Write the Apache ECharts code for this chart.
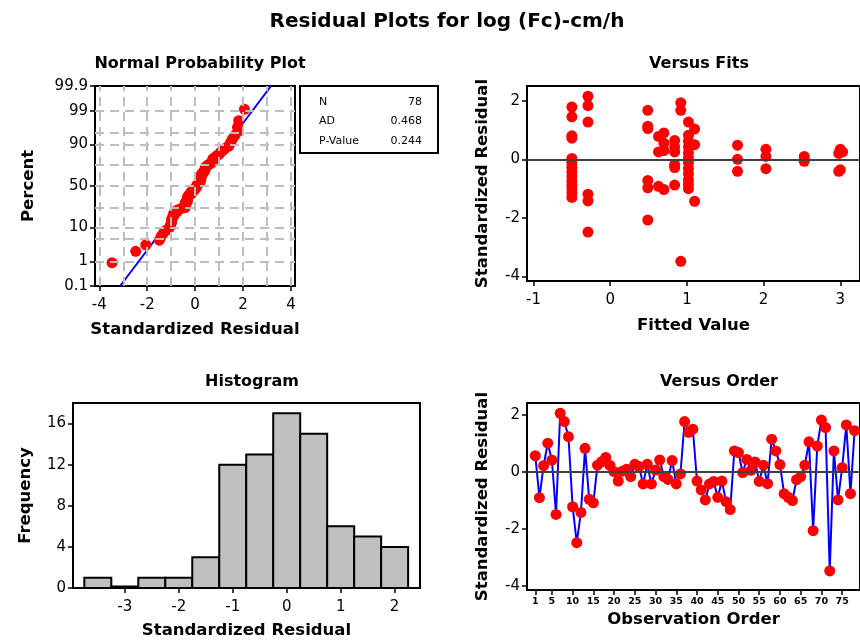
<!DOCTYPE html>
<html><head><meta charset="utf-8">
<script src="https://cdn.jsdelivr.net/npm/echarts@6/dist/echarts.min.js"></script>
<style>html,body{margin:0;padding:0;background:#fff}#c{width:860px;height:640px}</style>
</head><body><div id="c"></div>
<script>
// ---- data ----
const residuals = [0.57,-0.90,0.22,1.01,0.42,-1.49,2.06,1.77,1.24,-1.22,
  -2.48,-1.42,0.83,-0.96,-1.08,0.24,0.36,0.51,0.23,0.01,
  -0.32,0.03,0.10,-0.16,0.27,0.19,-0.42,0.27,-0.42,0.07,
  0.42,-0.16,-0.26,0.40,-0.42,-0.07,1.77,1.39,1.50,-0.32,
  -0.63,-0.98,-0.42,-0.33,-0.89,-0.32,-1.04,-1.32,0.74,0.68,
  -0.02,0.44,0.06,0.35,-0.33,0.24,-0.41,1.15,0.74,0.26,
  -0.76,-0.89,-1.00,-0.27,-0.16,0.24,1.06,-2.06,0.91,1.82,
  1.56,-3.47,0.74,-0.98,0.15,1.65,-0.76,1.45];
const nppPercentLabels = [0.1,1,10,50,90,99,99.9];
const nppGridPercents = [1,5,10,25,50,75,90,95,99];
const nppGridX = [-4,-3,-2,-1,0,1,2,3,4];
const nppLineX = [-3.13,3.17];
const nppLineP = [0.1,99.9];
const statNames = ['N','AD','P-Value'];
const statValues = ['78','0.468','0.244'];
const fitsX = [-0.50,-0.50,-0.50,-0.50,-0.50,-0.50,-0.50,-0.50,-0.50,-0.50,-0.50,-0.50,-0.50,-0.50,
  -0.29,-0.29,-0.29,-0.29,-0.29,-0.29,
  0.49,0.49,0.49,0.49,0.49,0.49,
  0.63,0.63,0.63, 0.70,0.70,0.70,0.70,
  0.84,0.84,0.84,0.84,0.84,0.84,
  0.92,0.92,0.92,
  1.02,1.02,1.02,1.02,1.02,1.02,1.02,1.02,1.02,1.02,1.02,1.02,
  1.10,1.10,1.10,
  1.66,1.66,1.66, 2.03,2.03,2.03, 2.53,2.53,2.53, 3.00,2.98,3.00,2.98,3.03];
const fitsY = [1.78,1.45,0.80,0.72,0.03,-0.12,-0.27,-0.42,-0.57,-0.72,-0.87,-1.00,-1.15,-1.30,
  2.15,1.83,1.27,-1.19,-1.42,-2.48,
  1.67,1.13,1.05,-0.72,-0.97,-2.07,
  0.78,0.25,-0.92, 0.90,0.55,0.30,-1.03,
  0.64,0.42,0.25,-0.18,-0.28,-0.88,
  1.93,1.67,-3.48,
  1.27,0.82,0.62,0.42,0.22,0.05,-0.12,-0.32,-0.50,-0.70,-0.85,-1.00,
  1.03,0.50,-1.43,
  0.48,0.00,-0.41, 0.34,0.10,-0.32, 0.10,0.00,-0.07, 0.34,0.20,-0.36,-0.41,0.25];
const histMid = [-3.5,-3.0,-2.5,-2.0,-1.5,-1.0,-0.5,0,0.5,1.0,1.5,2.0];
const histCount = [1,0,1,1,3,12,13,17,15,6,5,4];
const histBinWidth = 0.5;
const orderTicks = [1,5,10,15,20,25,30,35,40,45,50,55,60,65,70,75];

// ---- helpers ----
function probit(p){
 const a=[-3.969683028665376e+01,2.209460984245205e+02,-2.759285104469687e+02,1.383577518672690e+02,-3.066479806614716e+01,2.506628277459239e+00];
 const b=[-5.447609879822406e+01,1.615858368580409e+02,-1.556989798598866e+02,6.680131188771972e+01,-1.328068155288572e+01];
 const c=[-7.784894002430293e-03,-3.223964580411365e-01,-2.400758277161838e+00,-2.549732539343734e+00,4.374664141464968e+00,2.938163982698783e+00];
 const d=[7.784695709041462e-03,3.224671290700398e-01,2.445134137142996e+00,3.754408661907416e+00];
 const pl=0.02425, ph=1-pl; let q,r;
 if(p<pl){q=Math.sqrt(-2*Math.log(p));return (((((c[0]*q+c[1])*q+c[2])*q+c[3])*q+c[4])*q+c[5])/((((d[0]*q+d[1])*q+d[2])*q+d[3])*q+1);}
 if(p<=ph){q=p-0.5;r=q*q;return (((((a[0]*r+a[1])*r+a[2])*r+a[3])*r+a[4])*r+a[5])*q/(((((b[0]*r+b[1])*r+b[2])*r+b[3])*r+b[4])*r+1);}
 q=Math.sqrt(-2*Math.log(1-p));return -(((((c[0]*q+c[1])*q+c[2])*q+c[3])*q+c[4])*q+c[5])/((((d[0]*q+d[1])*q+d[2])*q+d[3])*q+1);
}
const F = 'DejaVu Sans';
const n = residuals.length;
const sorted = residuals.slice().sort((x,y)=>x-y);
const nppData = sorted.map((v,i)=>[v, probit((i+1-0.3)/(n+0.4))]);
const zLabels = nppPercentLabels.map(p=>probit(p/100));
const zMin = -3.0903, zMax = 3.0903;

const nameStyle = {color:'#000',fontFamily:F,fontWeight:'bold',fontSize:16.5};
function mkAxis(o){
  return Object.assign({
    type:'value', nameLocation:'middle',
    axisLine:{show:false,onZero:false}, splitLine:{show:false},
    nameTextStyle:nameStyle
  }, o);
}
function tick(vals){ return {show:true,length:5,customValues:vals,lineStyle:{color:'#000',width:1.5}}; }
function lab(vals,extra){ return Object.assign({color:'#000',fontFamily:F,fontSize:15,margin:12,showMinLabel:true,showMaxLabel:true,hideOverlap:false,customValues:vals},extra||{}); }

const gridStyle = {show:true,borderColor:'#000',borderWidth:2,backgroundColor:'#fff'};
const dash = {color:'#bdbdbd',width:2,type:[9,6]};
const titleStyle = {color:'#000',fontFamily:F,fontWeight:'bold',fontSize:16};

const option = {
  animation:false,
  title:[
    {text:'Residual Plots for log (Fc)-cm/h',left:442,top:7,textAlign:'center',textStyle:{color:'#000',fontFamily:F,fontWeight:'bold',fontSize:20}},
    {text:'Normal Probability Plot',left:195,top:51,textAlign:'center',textStyle:titleStyle},
    {text:'Versus Fits',left:694,top:51,textAlign:'center',textStyle:titleStyle},
    {text:'Histogram',left:247,top:369,textAlign:'center',textStyle:titleStyle},
    {text:'Versus Order',left:714,top:369,textAlign:'center',textStyle:titleStyle}
  ],
  grid:[
    Object.assign({left:95,top:86,width:200,height:200},gridStyle),
    Object.assign({left:527,top:86,width:343,height:195},gridStyle),
    Object.assign({left:73,top:403,width:347,height:186},gridStyle),
    Object.assign({left:527,top:403,width:343,height:187},gridStyle)
  ],
  xAxis:[
    mkAxis({gridIndex:0,min:-4.18,max:4.17,name:'Standardized Residual',nameGap:35,axisTick:tick([-4,-2,0,2,4]),axisLabel:lab([-4,-2,0,2,4])}),
    mkAxis({gridIndex:1,min:-1.085,max:3.257,name:'Fitted Value',nameGap:36,axisTick:tick([-1,0,1,2,3]),axisLabel:lab([-1,0,1,2,3])}),
    mkAxis({gridIndex:2,min:-3.96,max:2.47,name:'Standardized Residual',nameGap:34,axisTick:tick([-3,-2,-1,0,1,2]),axisLabel:lab([-3,-2,-1,0,1,2])}),
    mkAxis({gridIndex:3,min:-1,max:79.3,name:'Observation Order',nameGap:21,nameTextStyle:Object.assign({},nameStyle,{fontSize:16.5}),
      axisTick:tick(orderTicks),axisLabel:lab(orderTicks,{fontWeight:'bold',fontSize:9.5,margin:7})})
  ],
  yAxis:[
    mkAxis({gridIndex:0,min:zMin,max:zMax,name:'Percent',nameGap:58,axisTick:tick(zLabels),
      axisLabel:lab(zLabels,{margin:7,formatter:function(v){let best=0;for(let i=0;i<zLabels.length;i++){if(Math.abs(zLabels[i]-v)<Math.abs(zLabels[best]-v))best=i;}return String(nppPercentLabels[best]);}})}),
    mkAxis({gridIndex:1,min:-4.15,max:2.5,name:'Standardized Residual',nameGap:36,axisTick:tick([-4,-2,0,2]),axisLabel:lab([-4,-2,0,2],{margin:7})}),
    mkAxis({gridIndex:2,min:0,max:18,name:'Frequency',nameGap:39,axisTick:tick([0,4,8,12,16]),axisLabel:lab([0,4,8,12,16],{margin:7})}),
    mkAxis({gridIndex:3,min:-4.14,max:2.42,name:'Standardized Residual',nameGap:36,axisTick:tick([-4,-2,0,2]),axisLabel:lab([-4,-2,0,2],{margin:7})})
  ],
  graphic:[
    {type:'group',left:299,top:85,children:[
      {type:'rect',shape:{x:0,y:0,width:138,height:67},style:{fill:'#fff',stroke:'#000',lineWidth:2}},
    ].concat(statNames.map((s,i)=>({type:'text',x:19,y:16+i*19.5,style:{text:s,fill:'#000',font:'11px "DejaVu Sans"',verticalAlign:'middle'}})))
     .concat(statValues.map((s,i)=>({type:'text',x:122,y:16+i*19.5,style:{text:s,fill:'#000',font:'11px "DejaVu Sans"',align:'right',verticalAlign:'middle'}})))
    }
  ],
  series:[
    {type:'scatter',xAxisIndex:0,yAxisIndex:0,data:[],silent:true,
      markLine:{silent:true,symbol:'none',label:{show:false},lineStyle:dash,animation:false,
        data:nppGridX.map(v=>({xAxis:v})).concat(nppGridPercents.map(p=>({yAxis:probit(p/100)})))}},
    {type:'line',xAxisIndex:0,yAxisIndex:0,data:nppLineX.map((x,i)=>[x,probit(nppLineP[i]/100)]),
      symbol:'none',lineStyle:{color:'#0000ff',width:2},clip:true,z:3},
    {type:'scatter',xAxisIndex:0,yAxisIndex:0,data:nppData,symbolSize:11,itemStyle:{color:'#ff0000',opacity:1},z:4},

    {type:'scatter',xAxisIndex:1,yAxisIndex:1,data:[],silent:true,
      markLine:{silent:true,symbol:'none',label:{show:false},lineStyle:{color:'#404040',width:2,type:'solid'},data:[{yAxis:0}]}},
    {type:'scatter',xAxisIndex:1,yAxisIndex:1,data:fitsX.map((x,i)=>[x,fitsY[i]]),symbolSize:11,itemStyle:{color:'#ff0000',opacity:1},z:4},

    {type:'custom',xAxisIndex:2,yAxisIndex:2,data:histMid.map((m,i)=>[m,histCount[i]]),encode:{x:0,y:1},
      renderItem:function(params,api){
        const m=api.value(0),c=api.value(1);
        const p1=api.coord([m-histBinWidth/2,c]),p2=api.coord([m+histBinWidth/2,0]);
        return {type:'rect',shape:{x:p1[0],y:p1[1]-(c===0?1.5:0),width:p2[0]-p1[0],height:Math.max(p2[1]-p1[1],1.5)},style:{fill:c===0?'#000':'#c0c0c0',stroke:'#000',lineWidth:2}};
      }},

    {type:'scatter',xAxisIndex:3,yAxisIndex:3,data:[],silent:true,
      markLine:{silent:true,symbol:'none',label:{show:false},lineStyle:{color:'#404040',width:2,type:'solid'},data:[{yAxis:0}]}},
    {type:'line',xAxisIndex:3,yAxisIndex:3,data:residuals.map((v,i)=>[i+1,v]),symbol:'circle',symbolSize:11,
      lineStyle:{color:'#0000ff',width:2},itemStyle:{color:'#ff0000',opacity:1},z:4}
  ]
};
echarts.init(document.getElementById('c'),null,{renderer:'canvas'}).setOption(option);
</script></body></html>
